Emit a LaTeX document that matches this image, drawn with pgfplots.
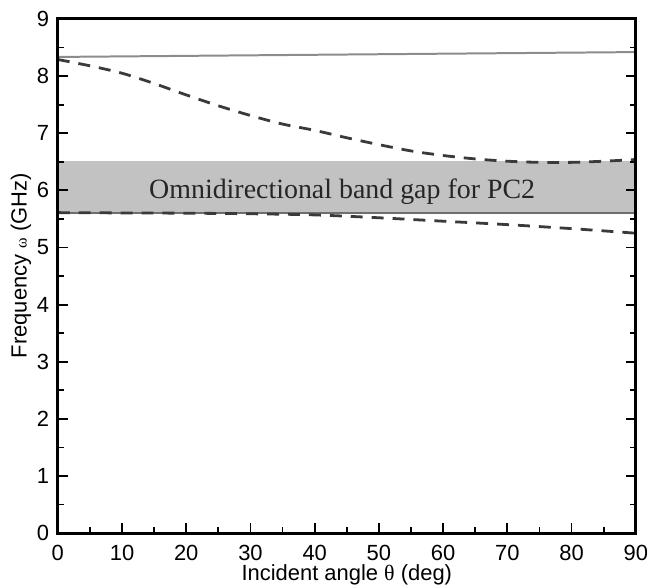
\documentclass[border=0pt]{standalone}
\usepackage{pgfplots}
\pgfplotsset{compat=1.18}
\usepackage{fontspec}
\setmainfont{Liberation Sans}
\newfontfamily\serif{Liberation Serif}
\definecolor{bandgray}{HTML}{C2C2C2}
\definecolor{solidgray}{HTML}{8C8C8C}
\definecolor{edgegray}{HTML}{6E6E6E}
\definecolor{dashgray}{HTML}{3A3A3A}
\begin{document}
\begin{tikzpicture}
\begin{axis}[
  scale only axis, width=580pt, height=516pt,
  xmin=0, xmax=90, ymin=0, ymax=9,
  xtick={0,10,...,90}, ytick={0,1,...,9},
  minor x tick num=1, minor y tick num=1,
  tick align=inside, xtick pos=left, ytick pos=both,
  major tick length=10pt, minor tick length=6pt,
  every major tick/.append style={black, line width=1.8pt},
  every minor tick/.append style={black, line width=1.8pt},
  axis on top,
  axis line style={line width=3pt},
  every axis/.append style={line width=3pt},
  tick label style={font=\fontsize{22}{25}\selectfont},
  /pgf/number format/assume math mode=true,
  yticklabel style={xshift=-4pt},
  xticklabel style={inner sep=1pt, yshift=-10pt},
  xlabel={Incident angle {\serif θ} (deg)},
  ylabel={Frequency {\serif\fontsize{16}{16}\selectfont ω} (GHz)},
  label style={font=\fontsize{22}{25}\selectfont},
  xlabel style={at={(axis description cs:0.5,0)}, anchor=base, inner sep=0pt, yshift=-47pt},
  ylabel style={at={(axis description cs:-0.054,0.52)}, anchor=base},
]
% band gap region
\addplot[fill=bandgray, draw=none] coordinates {(0,5.61) (90,5.61) (90,6.51) (0,6.51) (0,5.61)};
\addplot[color=edgegray, line width=2pt] coordinates {(0,5.61) (90,5.61)};
% upper solid line
\addplot[color=solidgray, line width=2pt] coordinates {(0,8.335) (90,8.42)};
% upper dashed line
\addplot[color=dashgray, line width=2.8pt, dash pattern=on 12pt off 9pt, smooth] coordinates {
(0,8.29) (5,8.18) (10,8.05) (15,7.87) (20,7.67) (25,7.48) (30,7.31) (35,7.16) (40,7.05) (45,6.92) (50,6.80) (55,6.69) (60,6.61) (65,6.55) (70,6.51) (75,6.49) (80,6.49) (85,6.51) (90,6.54)};
% lower dashed line
\addplot[color=dashgray, line width=2.8pt, dash pattern=on 12pt off 9pt, smooth] coordinates {
(0,5.61) (10,5.605) (20,5.60) (30,5.59) (40,5.57) (50,5.52) (60,5.46) (70,5.40) (80,5.33) (90,5.25)};
\node[font=\serif\fontsize{28}{31}\selectfont, text=black!85, anchor=base west, inner sep=0pt] at (axis cs:14,5.86) {Omnidirectional band gap for PC2};
\end{axis}
\path (-58pt,535pt) (591pt,-54pt);
\end{tikzpicture}
\end{document}
